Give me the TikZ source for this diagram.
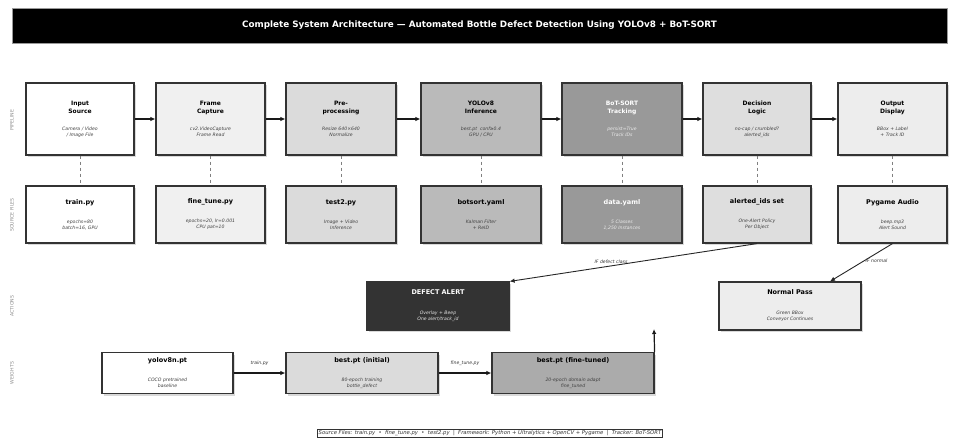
\documentclass[tikz,border=0pt]{standalone}
\usepackage{fontspec}
\setmainfont{DejaVu Sans}
\usetikzlibrary{arrows.meta,shadows}
\newcommand{\boxTitle}[1]{{\fontsize{6}{6}\selectfont\bfseries #1}}
\newcommand{\fileTitle}[1]{{\fontsize{6.5}{6}\selectfont\bfseries #1}}
\newcommand{\boxSub}[1]{{\itshape #1}}

\begin{document}
\begin{tikzpicture}[x=1pt, y=-1pt,
  stagebox/.style={draw=black!80, line width=1.2pt, fill=#1, align=center,
    inner sep=0pt, text=black, font=\fontsize{4.6}{6}\selectfont,
    drop shadow={shadow xshift=2pt, shadow yshift=-2pt, fill=black!15, opacity=1}},
  stagepipe/.style={stagebox=#1, minimum height=72pt},
  stagefile/.style={stagebox=#1, minimum height=57pt},
  actbox/.style={stagebox=#1, minimum width=142pt, minimum height=48pt},
  wgtbox/.style={stagebox=#1, minimum height=41pt},
  darktext/.style={text=white},
  subgrey/.style={text=black!75},
  rowlabel/.style={rotate=90, text=black!45, font=\fontsize{4.7}{5}\selectfont},
  flowarrow/.style={-{Latex[length=5pt,width=4.5pt]}, line width=1.2pt, black!90},
  brancharrow/.style={-{Latex[length=5pt,width=4.5pt]}, line width=0.9pt, black!85},
  dashlink/.style={dashed, black!50, line width=0.5pt},
  edgelabel/.style={font=\fontsize{4.6}{5}\selectfont\itshape, text=black!80, inner sep=1.5pt}]

\useasboundingbox (0,0) rectangle (959,439);

% title bar
\node (title) [fill=black, draw=black!40, line width=0.6pt, minimum width=935pt, minimum height=35pt,
  text=white, font=\fontsize{8.8}{10}\selectfont\bfseries] at (479.5,25.5)
  {Complete System Architecture — Automated Bottle Defect Detection Using YOLOv8 + BoT-SORT};

% row labels
\node (lblpipe) [rowlabel] at (12,120) {PIPELINE};
\node (lblsrc) [rowlabel] at (12,215) {SOURCE FILES};
\node (lblact) [rowlabel] at (12,306) {ACTIONS};
\node (lblwgt) [rowlabel] at (12,373) {WEIGHTS};

% pipeline
\node (inp) [stagepipe=white, minimum width=108pt] at (80,119)
  {\boxTitle{Input}\\[2pt]\boxTitle{Source}\\[11pt]\boxSub{\color{black!75}Camera / Video}\\\boxSub{\color{black!75}/ Image File}};
\node (cap) [stagepipe=black!6, minimum width=109pt] at (210.5,119)
  {\boxTitle{Frame}\\[2pt]\boxTitle{Capture}\\[11pt]\boxSub{\color{black!75}cv2.VideoCapture}\\\boxSub{\color{black!75}Frame Read}};
\node (pre) [stagepipe=black!14, minimum width=110pt] at (341,119)
  {\boxTitle{Pre-}\\[2pt]\boxTitle{processing}\\[11pt]\boxSub{\color{black!75}Resize 640×640}\\\boxSub{\color{black!75}Normalize}};
\node (yolo) [stagepipe=black!27, minimum width=120pt] at (481,119)
  {\boxTitle{YOLOv8}\\[2pt]\boxTitle{Inference}\\[11pt]\boxSub{\color{black!75}best.pt\ \ conf≥0.4}\\\boxSub{\color{black!75}GPU / CPU}};
\node (bot) [stagepipe=black!40, minimum width=120pt, darktext] at (622,119)
  {\boxTitle{BoT-SORT}\\[2pt]\boxTitle{Tracking}\\[11pt]\boxSub{\color{black!8}persist=True}\\\boxSub{\color{black!8}Track IDs}};
\node (dec) [stagepipe=black!13, minimum width=108pt] at (757,119)
  {\boxTitle{Decision}\\[2pt]\boxTitle{Logic}\\[11pt]\boxSub{\color{black!75}no-cap / crumbled?}\\\boxSub{\color{black!75}alerted\_ids}};
\node (out) [stagepipe=black!7, minimum width=109pt] at (892.5,119)
  {\boxTitle{Output}\\[2pt]\boxTitle{Display}\\[11pt]\boxSub{\color{black!75}BBox + Label}\\\boxSub{\color{black!75}+ Track ID}};

% source files
\node (trainpy) [stagefile=white, minimum width=108pt] at (80,214.5)
  {\fileTitle{train.py}\\[13pt]\boxSub{\color{black!75}epochs=80}\\\boxSub{\color{black!75}batch=16, GPU}};
\node (finepy) [stagefile=black!6, minimum width=109pt] at (210.5,214.5)
  {\fileTitle{fine\_tune.py}\\[13pt]\boxSub{\color{black!75}epochs=20, lr=0.001}\\\boxSub{\color{black!75}CPU pat=10}};
\node (testpy) [stagefile=black!14, minimum width=110pt] at (341,214.5)
  {\fileTitle{test2.py}\\[13pt]\boxSub{\color{black!75}Image + Video}\\\boxSub{\color{black!75}Inference}};
\node (botyaml) [stagefile=black!27, minimum width=120pt] at (481,214.5)
  {\fileTitle{botsort.yaml}\\[13pt]\boxSub{\color{black!75}Kalman Filter}\\\boxSub{\color{black!75}+ ReID}};
\node (datayaml) [stagefile=black!40, minimum width=120pt, darktext] at (622,214.5)
  {\fileTitle{data.yaml}\\[13pt]\boxSub{\color{black!8}5 Classes}\\\boxSub{\color{black!8}1,250 Instances}};
\node (alerted) [stagefile=black!13, minimum width=108pt] at (757,214.5)
  {\fileTitle{alerted\_ids set}\\[13pt]\boxSub{\color{black!75}One-Alert Policy}\\\boxSub{\color{black!75}Per Object}};
\node (audio) [stagefile=black!7, minimum width=109pt] at (892.5,214.5)
  {\fileTitle{Pygame Audio}\\[13pt]\boxSub{\color{black!75}beep.mp3}\\\boxSub{\color{black!75}Alert Sound}};

% actions
\node (defect) [actbox=black!80, darktext] at (438,306)
  {\fileTitle{DEFECT ALERT}\\[14pt]\boxSub{\color{black!10}Overlay + Beep}\\\boxSub{\color{black!10}One alert/track\_id}};
\node (normal) [actbox=black!7] at (790,306)
  {\fileTitle{Normal Pass}\\[14pt]\boxSub{\color{black!75}Green BBox}\\\boxSub{\color{black!75}Conveyor Continues}};

% weights
\node (yolon) [wgtbox=white, minimum width=131pt] at (167.5,373)
  {\fileTitle{yolov8n.pt}\\[13pt]\boxSub{\color{black!75}COCO pretrained}\\\boxSub{\color{black!75}baseline}};
\node (bestinit) [wgtbox=black!14, minimum width=152pt] at (362,373)
  {\fileTitle{best.pt (initial)}\\[13pt]\boxSub{\color{black!75}80-epoch training}\\\boxSub{\color{black!75}bottle\_defect}};
\node (bestfine) [wgtbox=black!33, minimum width=162pt] at (573,373)
  {\fileTitle{best.pt (fine-tuned)}\\[13pt]\boxSub{\color{black!75}20-epoch domain adapt}\\\boxSub{\color{black!75}fine\_tuned}};
\coordinate (deploy) at (654,329);

% footer
\node (footer) [draw=black!80, line width=0.5pt, fill=white, inner sep=1.2pt, text=black!80,
  font=\fontsize{5.3}{6}\selectfont\itshape] at (490,433.5)
  {Source Files: train.py\ \ •\ \ fine\_tune.py\ \ •\ \ test2.py\ \ |\ \ Framework: Python + Ultralytics + OpenCV + Pygame\ \ |\ \ Tracker: BoT-SORT};

% pipeline flow
\draw[flowarrow] (inp) -- (cap);
\draw[flowarrow] (cap) -- (pre);
\draw[flowarrow] (pre) -- (yolo);
\draw[flowarrow] (yolo) -- (bot);
\draw[flowarrow] (bot) -- (dec);
\draw[flowarrow] (dec) -- (out);

% stage to file links
\draw[dashlink] (inp.south) -- (trainpy.north);
\draw[dashlink] (cap.south) -- (finepy.north);
\draw[dashlink] (pre.south) -- (testpy.north);
\draw[dashlink] (yolo.south) -- (botyaml.north);
\draw[dashlink] (bot.south) -- (datayaml.north);
\draw[dashlink] (dec.south) -- (alerted.north);
\draw[dashlink] (out.south) -- (audio.north);

% decisions
\draw[brancharrow] (alerted.south) -- node[edgelabel, pos=0.59, above] {IF defect class} (defect.north east);
\draw[brancharrow] (audio.south) -- node[edgelabel, pos=0.46, right] {IF normal} ([xshift=40pt]normal.north);

% weights flow
\draw[flowarrow] (yolon) -- node[edgelabel, above=5pt] {train.py} (bestinit);
\draw[flowarrow] (bestinit) -- node[edgelabel, above=5pt] {fine\_tune.py} (bestfine);
\draw[flowarrow] (bestfine.north east) -- (deploy);

\end{tikzpicture}
\end{document}
